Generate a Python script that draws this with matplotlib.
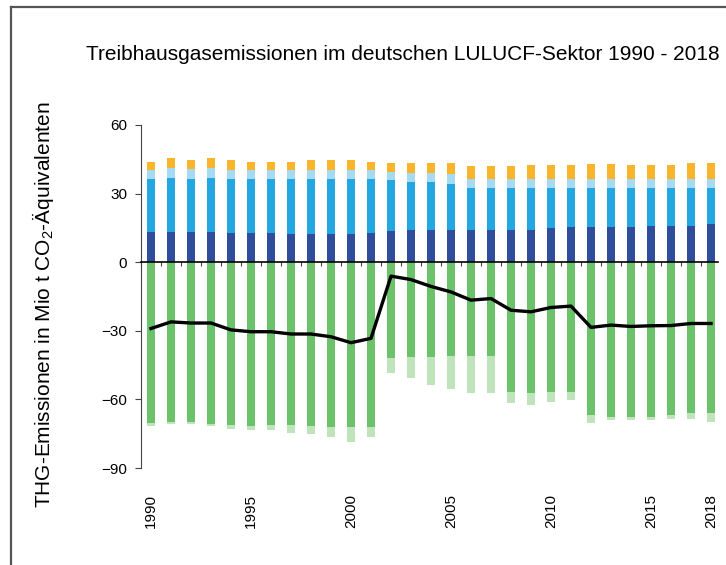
import numpy as np
import matplotlib.pyplot as plt
from matplotlib.lines import Line2D

plt.rcParams['font.family'] = ['Liberation Sans', 'DejaVu Sans']
plt.rcParams['mathtext.fontset'] = 'custom'
plt.rcParams['mathtext.rm'] = 'Liberation Sans'
plt.rcParams['mathtext.it'] = 'Liberation Sans'

# Data (Mio t CO2-Aequivalente)
years = list(range(1990, 2019))
label_years = [1990, 1995, 2000, 2005, 2010, 2015, 2018]

dark_blue = [13.1, 13.1, 13.0, 13.0, 12.9, 12.8, 12.6, 12.5, 12.4, 12.3, 12.2, 12.6,
             13.5, 14.3, 14.0, 14.0, 14.0, 14.0, 14.1, 14.2, 14.8, 15.2, 15.2, 15.3,
             15.3, 15.7, 15.7, 15.8, 16.6]
mid_blue = [23.4, 23.7, 23.6, 23.8, 23.6, 23.6, 23.8, 23.8, 24.1, 24.2, 24.4, 23.8,
            22.3, 20.9, 21.0, 20.4, 18.3, 18.3, 18.2, 18.2, 17.6, 17.1, 17.2, 17.1,
            17.1, 16.7, 16.8, 16.7, 16.0]
light_blue = [4.0, 4.2, 4.0, 4.2, 4.0, 4.1, 4.0, 4.1, 4.0, 4.0, 3.9, 4.0,
              3.7, 3.8, 4.0, 4.1, 4.0, 4.0, 4.0, 3.9, 3.9, 4.0, 3.9, 3.9,
              3.9, 3.9, 3.8, 3.8, 3.7]
orange = [3.5, 4.5, 3.9, 4.5, 4.0, 3.5, 3.6, 3.6, 4.0, 4.0, 4.0, 3.6,
          4.0, 4.5, 4.5, 5.0, 5.7, 5.7, 5.7, 6.2, 6.2, 6.2, 6.7, 6.7,
          6.2, 6.2, 6.2, 7.2, 7.2]
green = [-70.3, -70.1, -70.1, -70.9, -71.0, -71.5, -71.0, -71.0, -71.5, -71.9, -71.9, -71.9,
         -42.1, -41.4, -41.4, -41.2, -41.2, -41.2, -56.6, -57.3, -56.9, -56.6, -66.8, -67.5,
         -67.8, -67.8, -66.8, -66.1, -66.1]
green_light = [-1.3, -0.7, -0.7, -0.7, -2.0, -2.0, -2.5, -3.5, -3.5, -4.4, -6.9, -4.4,
               -6.5, -9.1, -12.1, -14.4, -16.1, -15.8, -4.8, -5.1, -4.1, -3.7, -3.6, -1.4,
               -1.4, -1.4, -1.7, -2.6, -3.7]
net = [-29.0, -26.1, -26.6, -26.6, -29.6, -30.4, -30.4, -31.4, -31.4, -32.6, -35.2, -33.3,
       -6.1, -7.6, -10.6, -13.0, -16.6, -15.9, -21.0, -21.7, -19.8, -19.2, -28.5, -27.5,
       -28.1, -27.8, -27.7, -26.8, -26.8]

W, H = 726, 565
fig = plt.figure(figsize=(W / 100, H / 100), dpi=100)
ax = fig.add_axes([141 / W, 1 - 468 / H, (718 - 141) / W, (468 - 125) / H])

x = np.arange(len(years))
bw = 0.43
ax.bar(x, dark_blue, bw, color='#2f4d9a', zorder=2)
bottom = np.array(dark_blue)
ax.bar(x, mid_blue, bw, bottom=bottom, color='#22a7e2', zorder=2)
bottom = bottom + np.array(mid_blue)
ax.bar(x, light_blue, bw, bottom=bottom, color='#a6daf2', zorder=2)
bottom = bottom + np.array(light_blue)
ax.bar(x, orange, bw, bottom=bottom, color='#f8b52c', zorder=2)

ax.bar(x, green, bw, color='#6cc26b', zorder=2)
ax.bar(x, green_light, bw, bottom=green, color='#bfe3ba', zorder=2)

ax.plot(x, net, color='black', lw=2.4, zorder=4, solid_joinstyle='round')

ax.set_xlim(-0.5, 28.35)
ax.set_ylim(-90, 60)
ax.set_yticks([-90, -60, -30, 0, 30, 60])
ax.tick_params(axis='y', labelsize=11, length=4, pad=6, color='#444')

# x axis at zero with ticks between the bars
ax.spines['bottom'].set_position(('data', 0))
ax.spines['bottom'].set_zorder(5)
ax.spines['bottom'].set_linewidth(1.2)
ax.set_xticks(np.arange(-0.5, 28.5, 1))
ax.tick_params(axis='x', length=3, labelbottom=False, color='#444')
ax.spines['left'].set_color('#444')
for s in ['top', 'right']:
    ax.spines[s].set_visible(False)

for yr in label_years:
    ax.text(years.index(yr), -0.075, str(yr), rotation=90, ha='center', va='top',
            fontsize=11, transform=ax.get_xaxis_transform())

fig.text(0.555, 1 - 55 / H, 'Treibhausgasemissionen im deutschen LULUCF-Sektor 1990 - 2018',
         ha='center', va='center', fontsize=15)
fig.text(43 / W, 1 - 305 / H, 'THG-Emissionen in Mio t CO$_2$-Äquivalenten',
         rotation=90, ha='center', va='center', fontsize=15)

# outer frame (cut off at right and bottom)
fig.add_artist(Line2D([11 / W, 11 / W], [0, 1 - 7 / H], color='#555', lw=1.6,
                      transform=fig.transFigure))
fig.add_artist(Line2D([11 / W, 1], [1 - 7 / H, 1 - 7 / H], color='#555', lw=1.6,
                      transform=fig.transFigure))

fig.savefig('out.png', dpi=100)
